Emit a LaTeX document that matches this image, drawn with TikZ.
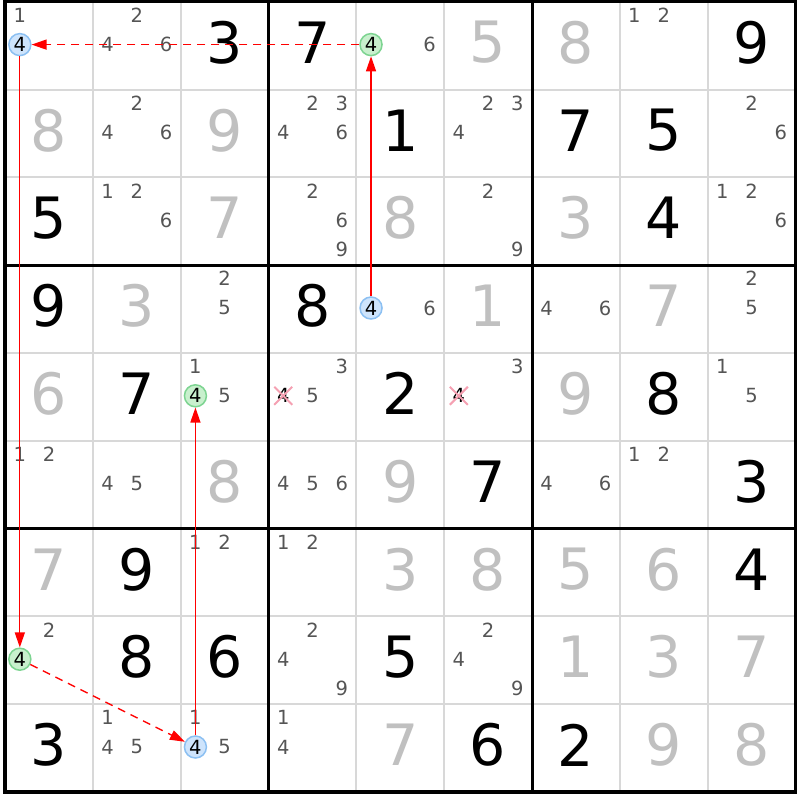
\documentclass[tikz,border=0pt]{standalone}
\usepackage{fontspec}
\setmainfont{DejaVu Sans}
\usetikzlibrary{arrows.meta,shapes.misc}
\definecolor{solgray}{RGB}{192,192,192}
\definecolor{candgray}{RGB}{85,85,85}
\definecolor{thingray}{RGB}{216,216,216}
\definecolor{gfill}{RGB}{200,240,205}
\definecolor{gdraw}{RGB}{125,212,145}
\definecolor{bfill}{RGB}{206,228,252}
\definecolor{bdraw}{RGB}{140,192,242}
\definecolor{xpink}{RGB}{245,160,178}
\definecolor{arrred}{RGB}{255,0,0}
\def\GL{5.2}
\def\GT{1.7}
\def\GC{87.8}
\newcommand\givenD[3]{\node[givd] (g#1#2) at ({\GL+(#2+0.5)*\GC},{\GT+(#1+0.5)*\GC-3}) {#3};}
\newcommand\solvedD[3]{\node[sold] (s#1#2) at ({\GL+(#2+0.5)*\GC},{\GT+(#1+0.5)*\GC-3}) {#3};}
\newcommand\candsD[3]{\foreach \k in {#3} {%
  \pgfmathtruncatemacro\sc{mod(\k-1,3)}%
  \pgfmathtruncatemacro\sr{div(\k-1,3)}%
  \node[cand] (c#1#2\k) at ({\GL+#2*\GC+(\sc+0.5)*\GC/3},{\GT+#1*\GC+(\sr+0.5)*\GC/3-1}) {\k};}}
\newcommand\hlD[3]{\node[hl,#3] (h#1#2) at ({\GL+#2*\GC+0.5*\GC/3},{\GT+#1*\GC+1.5*\GC/3-1}) {4};}
\newcommand\xD[2]{\node[xout] (x#1#2) at ({\GL+#2*\GC+0.5*\GC/3},{\GT+#1*\GC+1.5*\GC/3-1}) {4};}
\tikzset{
  givd/.style={inner sep=0pt, text=black, font=\fontsize{57}{57}\selectfont},
  sold/.style={inner sep=0pt, text=solgray, font=\fontsize{57}{57}\selectfont},
  cand/.style={inner sep=0pt, text=candgray, font=\fontsize{19.5}{19.5}\selectfont},
  hl/.style={circle, inner sep=0pt, minimum size=22pt, line width=1.5pt, text=black, font=\fontsize{19.5}{19.5}\selectfont},
  hlg/.style={fill=gfill, draw=gdraw},
  hlb/.style={fill=bfill, draw=bdraw},
  xout/.style={cross out, draw=xpink, line width=2pt, minimum size=16pt, inner sep=0pt, text=black, font=\fontsize{19.5}{19.5}\selectfont},
  thinline/.style={draw=thingray, line width=2pt},
  thickline/.style={draw=black, line width=3pt},
  strong/.style={draw=arrred, line width=1.3pt, -{Triangle[length=15pt,width=10pt]}},
  weak/.style={strong, dash pattern=on 8pt off 6pt},
}
\begin{document}
\begin{tikzpicture}[x=1pt,y=-1pt]
\useasboundingbox (0,0) rectangle (800,800);
\fill[white] (0,0) rectangle (800,800);
% grid
\foreach \i in {1,2,4,5,7,8} {
  \draw[thinline] ({\GL+\i*\GC},\GT) -- ({\GL+\i*\GC},{\GT+9*\GC});
  \draw[thinline] (\GL,{\GT+\i*\GC}) -- ({\GL+9*\GC},{\GT+\i*\GC});
}
\foreach \i in {3,6} {
  \draw[thickline] ({\GL+\i*\GC},\GT) -- ({\GL+\i*\GC},{\GT+9*\GC});
  \draw[thickline] (\GL,{\GT+\i*\GC}) -- ({\GL+9*\GC},{\GT+\i*\GC});
}
\draw[draw=black, line width=3.5pt] (\GL,\GT) rectangle ({\GL+9*\GC},{\GT+9*\GC});
% givens
\givenD{0}{2}{3}\givenD{0}{3}{7}\givenD{0}{8}{9}
\givenD{1}{4}{1}\givenD{1}{6}{7}\givenD{1}{7}{5}
\givenD{2}{0}{5}\givenD{2}{7}{4}
\givenD{3}{0}{9}\givenD{3}{3}{8}
\givenD{4}{1}{7}\givenD{4}{4}{2}\givenD{4}{7}{8}
\givenD{5}{5}{7}\givenD{5}{8}{3}
\givenD{6}{1}{9}\givenD{6}{8}{4}
\givenD{7}{1}{8}\givenD{7}{2}{6}\givenD{7}{4}{5}
\givenD{8}{0}{3}\givenD{8}{5}{6}\givenD{8}{6}{2}
% solved
\solvedD{0}{5}{5}\solvedD{0}{6}{8}
\solvedD{1}{0}{8}\solvedD{1}{2}{9}
\solvedD{2}{2}{7}\solvedD{2}{4}{8}\solvedD{2}{6}{3}
\solvedD{3}{1}{3}\solvedD{3}{5}{1}\solvedD{3}{7}{7}
\solvedD{4}{0}{6}\solvedD{4}{6}{9}
\solvedD{5}{2}{8}\solvedD{5}{4}{9}
\solvedD{6}{0}{7}\solvedD{6}{4}{3}\solvedD{6}{5}{8}\solvedD{6}{6}{5}\solvedD{6}{7}{6}
\solvedD{7}{6}{1}\solvedD{7}{7}{3}\solvedD{7}{8}{7}
\solvedD{8}{4}{7}\solvedD{8}{7}{9}\solvedD{8}{8}{8}
% candidates
\candsD{0}{0}{1}
\candsD{0}{1}{2,4,6}
\candsD{0}{4}{6}
\candsD{0}{7}{1,2}
\candsD{1}{1}{2,4,6}
\candsD{1}{3}{2,3,4,6}
\candsD{1}{5}{2,3,4}
\candsD{1}{8}{2,6}
\candsD{2}{1}{1,2,6}
\candsD{2}{3}{2,6,9}
\candsD{2}{5}{2,9}
\candsD{2}{8}{1,2,6}
\candsD{3}{2}{2,5}
\candsD{3}{4}{6}
\candsD{3}{6}{4,6}
\candsD{3}{8}{2,5}
\candsD{4}{2}{1,5}
\candsD{4}{3}{3,5}
\candsD{4}{5}{3}
\candsD{4}{8}{1,5}
\candsD{5}{0}{1,2}
\candsD{5}{1}{4,5}
\candsD{5}{3}{4,5,6}
\candsD{5}{6}{4,6}
\candsD{5}{7}{1,2}
\candsD{6}{2}{1,2}
\candsD{6}{3}{1,2}
\candsD{7}{0}{2}
\candsD{7}{3}{2,4,9}
\candsD{7}{5}{2,4,9}
\candsD{8}{1}{1,4,5}
\candsD{8}{2}{1,5}
\candsD{8}{3}{1,4}
% crossed-out candidates
\xD{4}{3}
\xD{4}{5}
% highlighted candidates
\hlD{0}{0}{hlb}
\hlD{0}{4}{hlg}
\hlD{3}{4}{hlb}
\hlD{4}{2}{hlg}
\hlD{7}{0}{hlg}
\hlD{8}{2}{hlb}
% chain
\draw[strong] (h34) -- (h04);
\draw[weak] (h04) -- (h00);
\draw[strong] (h00) -- (h70);
\draw[weak] (h70) -- (h82);
\draw[strong] (h82) -- (h42);
\end{tikzpicture}
\end{document}
